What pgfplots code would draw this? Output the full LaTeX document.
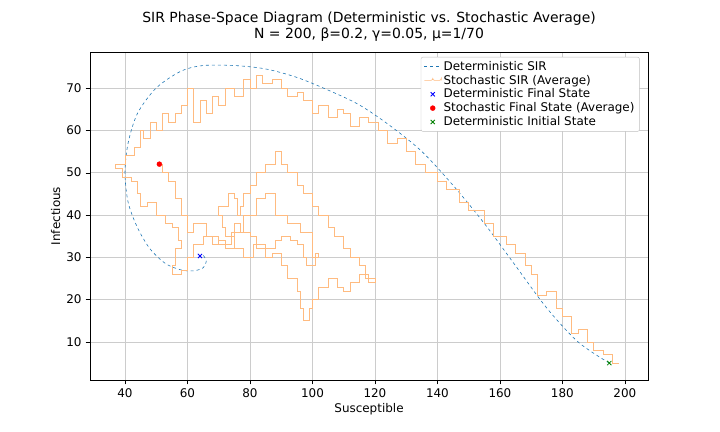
\documentclass[border=0pt]{standalone}
\usepackage{pgfplots}
\pgfplotsset{compat=1.18}
\usepackage{fontspec}
\setmainfont{DejaVu Sans}
\definecolor{tblue}{HTML}{1F77B4}
\definecolor{torange}{HTML}{FFBB80}
\begin{document}
\fontsize{12}{14}\selectfont
\begin{tikzpicture}
\useasboundingbox (-90bp,-52bp) rectangle (630bp,380bp);
\begin{axis}[
 scale only axis, width=558bp, height=328bp, at={(0,0)}, anchor=south west,
 xmin=28.8, xmax=207.4, ymin=1, ymax=78.5,
 xtick={40,60,...,200}, ytick={10,20,...,70},
 xtick pos=bottom, ytick pos=left,
 grid=major, grid style={gray!40},
 tick align=outside, tick style={black},
 /pgf/number format/assume math mode=true,
 ticklabel style={font=\fontsize{12}{14}\selectfont},
 xlabel={Susceptible}, ylabel={Infectious},
 xlabel style={yshift=2pt}, ylabel style={yshift=-2pt},
 label style={font=\fontsize{12}{14}\selectfont},
 title style={font=\fontsize{14}{16.5}\selectfont, align=center},
 title={SIR Phase-Space Diagram (Deterministic vs. Stochastic Average)\\N = 200, β=0.2, γ=0.05, μ=1/70},
 legend style={at={(0.985,0.985)}, anchor=north east, font=\fontsize{12}{14}\selectfont, draw=gray!50, rounded corners=2pt, row sep=-1pt},
 legend cell align=left,
]
\addplot[tblue, dashed, semithick, smooth, tension=0.5] coordinates {
(195,5) (185,10) (175,18) (165,28) (155,38) (145,47) (135,55) (125,61) (115,66) (105,69.5) (95,72.5) (85,74.5) (75,75.3) (65,75.3) (58,74) (50,70) (44,64) (41,57) (40,50) (41,43) (44,37) (48,32) (53,28.5) (58,27) (62,26.8) (65,27.5) (66,29) (65,30.5) (64,30.3)};
\addlegendentry{Deterministic SIR}
\addplot[torange, semithick, const plot] coordinates {
(198,5) (196,7) (193,8) (190,10) (188,13) (185,12) (183,16) (180,18) (178,22) (175,21) (172,26) (170,28) (168,31) (165,33) (162,35) (158,38) (155,41) (150,43) (147,46) (143,48) (140,50) (136,52) (133,55) (130,58) (127,57) (124,60) (121,62) (118,63) (115,61) (112,64) (110,65) (108,63) (105,66) (102,64) (100,67) (97,69) (95,68) (92,70) (90,72) (87,71) (84,73) (82,70) (80,72) (78,68) (75,70) (72,66) (70,68) (68,64) (66,67) (64,62) (62,70) (60,66) (58,64) (56,62) (54,64) (52,60) (50,62) (48,58) (46,60) (45,56) (43,54) (40,52) (37,51) (39,49) (42,48) (44,45) (45,42) (47,43) (50,40) (53,38) (55,37) (57,34) (58,32) (56,28) (55,26) (58,27) (60,30) (62,33) (65,35) (68,33) (70,34) (72,32) (75,38) (77,36) (80,35) (82,32) (85,30) (87,31) (90,28) (92,25) (95,22) (96,18) (97,15) (99,18) (100,20) (102,23) (105,25) (108,23) (110,22) (112,24) (115,26) (118,24) (120,25) (117,28) (115,30) (112,32) (110,35) (107,37) (105,40) (102,42) (100,45) (97,47) (95,50) (92,52) (90,55) (88,52) (85,50) (82,47) (80,45) (78,42) (77,40) (76,44) (75,45) (73,42) (70,40) (71,37) (72,35) (75,32) (78,30) (81,33) (85,32) (88,34) (90,35) (93,34) (95,33) (97,30) (98,28) (101,31) (102,30) (100,36) (96,38) (92,40) (88,45) (85,44) (82,40) (78,36) (74,33) (70,35) (66,38) (62,36) (60,40) (58,44) (56,48) (54,50) (52,52) (51,52)};
\addlegendentry{Stochastic SIR (Average)}
\addplot[only marks, mark=x, blue, mark size=3pt, thick] coordinates {(64,30.3)};
\addlegendentry{Deterministic Final State}
\addplot[only marks, mark=*, red, mark size=2.5pt] coordinates {(51,52)};
\addlegendentry{Stochastic Final State (Average)}
\addplot[only marks, mark=x, green!50!black, mark size=3pt, thick] coordinates {(195,5)};
\addlegendentry{Deterministic Initial State}
\end{axis}
\end{tikzpicture}
\end{document}
